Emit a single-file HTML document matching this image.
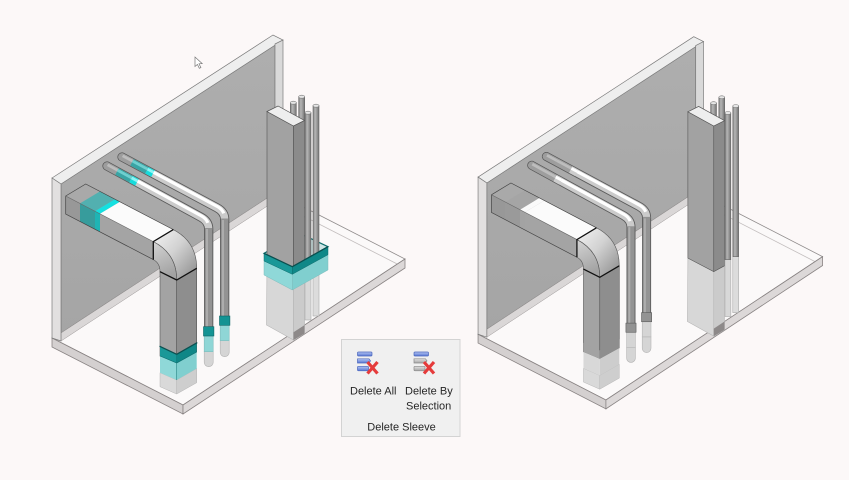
<!DOCTYPE html>
<html><head><meta charset="utf-8">
<style>
html,body{margin:0;padding:0;background:#fcf8f8;}
body{width:849px;height:480px;overflow:hidden;position:relative;font-family:"Liberation Sans",Arial,sans-serif;}
svg{position:absolute;left:0;top:0;}
.L{--st:#52b0b0;--sb:#14e0e0;--ss:#379c9c;--ssb:#1fb4b4;--dkL:#1a9898;--dkR:#0f8787;--ltL:#8fd8d8;--ltR:#80cfcf;--pt:#39a4a4;--ph:#6fcfcf;--pc:#16dcdc;--pch:#8ff4f4;--pvd:#139393;--pvl:#8fd6d6;--pvs:#0c6464;--pls:#7fbcbc;--sv:1;}
.R{--st:#a5a5a5;--sb:#fafafa;--ss:#9a9a9a;--ssb:#a3a3a3;--dkL:#a3a3a3;--dkR:#8e8e8e;--ltL:#d8d8d8;--ltR:#cdcdcd;--pt:#9e9e9e;--ph:#bdbdbd;--pc:#cdcdcd;--pch:#ffffff;--pvd:#939393;--pvl:#d5d5d5;--pvs:#5a5a5a;--pls:#b5b5b5;--sv:0;}
</style></head>
<body>
<svg width="849" height="480" viewBox="0 0 849 480" xmlns="http://www.w3.org/2000/svg">
<defs>
<linearGradient id="wallg" x1="0" y1="0" x2="0" y2="1"><stop offset="0" stop-color="#aeaeae"/><stop offset="1" stop-color="#a5a5a5"/></linearGradient>
<linearGradient id="elbO" x1="0" y1="0" x2="1" y2="1"><stop offset="0" stop-color="#f4f4f4"/><stop offset="0.45" stop-color="#d2d2d2"/><stop offset="1" stop-color="#8a8a8a"/></linearGradient>
<linearGradient id="elbS" x1="0" y1="0" x2="0.3" y2="1"><stop offset="0" stop-color="#d4d4d4"/><stop offset="1" stop-color="#a2a2a2"/></linearGradient>
<linearGradient id="vp" x1="0" y1="0" x2="1" y2="0"><stop offset="0" stop-color="#7a7a7a"/><stop offset="0.35" stop-color="#b6b6b6"/><stop offset="0.7" stop-color="#959595"/><stop offset="1" stop-color="#717171"/></linearGradient>
<linearGradient id="blue" x1="0" y1="0" x2="0" y2="1"><stop offset="0" stop-color="#b5c6f2"/><stop offset="1" stop-color="#5877d4"/></linearGradient>
<linearGradient id="grey" x1="0" y1="0" x2="0" y2="1"><stop offset="0" stop-color="#e2e2e2"/><stop offset="1" stop-color="#a5a5a5"/></linearGradient>

<g id="scene">
  <!-- floor -->
  <polygon points="52,338 183,405 405,259 274,192" fill="#fbf9f9" stroke="#8e8a8a" stroke-width="0.8"/>
  <line x1="274" y1="201" x2="405" y2="268" stroke="#c2bdbd" stroke-width="0.8"/>
  <polygon points="52,338 183,405 183,414 52,347" fill="#d4d0d0" stroke="#888383" stroke-width="0.8"/>
  <polygon points="183,405 405,259 405,268 183,414" fill="#dcd8d8" stroke="#888383" stroke-width="0.8"/>

  <!-- wall -->
  <polygon points="61,184 275,44 275,193 61,333" fill="url(#wallg)" stroke="#6f6f6f" stroke-width="0.6"/>
  <polygon points="61,333 275,193 275,201 61,341" fill="#dad7d7" stroke="#9a9696" stroke-width="0.5"/>
  <polygon points="52,178 273,35 283,40 61,184" fill="#eeeeee" stroke="#7a7a7a" stroke-width="0.7"/>
  <polygon points="52,178 61,184 61,341 52,338" fill="#e2e0e0" stroke="#7a7a7a" stroke-width="0.7"/>
  <polygon points="275,44 283,40 283,196 275,201" fill="#d9d9d9" stroke="#7a7a7a" stroke-width="0.7"/>

  <!-- horizontal duct -->
  <polygon points="65.7,196 80,203.4 80,221.4 65.7,214" fill="#989898"/>
  <polygon points="65.7,196 80,203.4 100,191.4 85.7,184" fill="#a9a9a9"/>
  <polygon points="80,203.4 95,211.2 95,229.2 80,221.4" style="fill:var(--ss,#9a9a9a)"/>
  <polygon points="95,211.2 100,213.8 100,231.8 95,229.2" style="fill:var(--ssb,#a3a3a3)"/>
  <polygon points="80,203.4 95,211.2 115,199.2 100,191.4" style="fill:var(--st,#a5a5a5)"/>
  <polygon points="95,211.2 100,213.8 120,201.8 115,199.2" style="fill:var(--sb,#fafafa)"/>
  <polygon points="100,213.8 153.3,241.6 153.3,259.6 100,231.8" fill="#a4a4a4"/>
  <polygon points="100,213.8 153.3,241.6 173.3,229.6 120,201.8" fill="#fbfbfb"/>
  <polygon points="65.7,196 85.7,184 173.3,229.6 153.3,241.6 153.3,259.6 65.7,214" fill="none" stroke="#444" stroke-width="0.7"/>
  <line x1="65.7" y1="196" x2="153.3" y2="241.6" stroke="#666" stroke-width="0.6"/>

  <!-- elbow -->
  <path d="M153.3,241.6 L173.3,229.6 Q196.7,241.7 196.7,268.3 L176.7,280 Q176.7,253.7 153.3,241.6 Z" fill="url(#elbO)" stroke="#555" stroke-width="0.6"/>
  <path d="M153.3,241.6 Q176.7,253.7 176.7,280 L160,271.7 Q160,263 153.3,259.6 Z" fill="url(#elbS)" stroke="#555" stroke-width="0.6"/>

  <!-- vertical duct -->
  <polygon points="160,271.7 176.7,280 176.7,363 160,356" fill="#a3a3a3" stroke="#555" stroke-width="0.6"/>
  <polygon points="176.7,280 196.7,268.3 196.7,352 176.7,363" fill="#8e8e8e" stroke="#555" stroke-width="0.6"/>
  <polygon points="160,372.7 176.7,380 176.7,394 160,386.7" fill="#d9d9d9" stroke="#b5b5b5" stroke-width="0.5"/>
  <polygon points="176.7,380 196.7,368.5 196.7,382.7 176.7,394" fill="#cecece" stroke="#b5b5b5" stroke-width="0.5"/>
  <polygon points="160,356 176.7,363 176.7,380 160,372.7" style="fill:var(--ltL,#d8d8d8)"/>
  <polygon points="176.7,363 196.7,352 196.7,368.5 176.7,380" style="fill:var(--ltR,#cdcdcd)"/>
  <polygon points="160,346.7 176.7,354.5 176.7,363 160,356" style="fill:var(--dkL,#a3a3a3)"/>
  <polygon points="176.7,354.5 196.7,343 196.7,352 176.7,363" style="fill:var(--dkR,#8e8e8e)"/>
  <g style="opacity:var(--sv,0)">
    <polyline points="159.5,346.2 176.7,354.3 197.3,342.6" fill="none" stroke="#0b5050" stroke-width="1.3"/>
    <polyline points="160,356 176.7,363 196.7,352" fill="none" stroke="#0d6f6f" stroke-width="0.6"/>
    <line x1="176.7" y1="354.5" x2="176.7" y2="380" stroke="#0d6f6f" stroke-width="0.5"/>
  </g>

  <!-- joint lines -->
  <polyline points="153.3,259.6 153.3,241.6 173.3,229.6" fill="none" stroke="#111" stroke-width="1.3"/>
  <polyline points="160,271.7 176.7,280 196.7,268.3" fill="none" stroke="#111" stroke-width="1.3"/>

  <!-- pipe 2 (back) -->
  <path d="M122,157 L217,207.8 Q224.7,212 224.7,219.5 L224.7,325" fill="none" stroke="#5a5a5a" stroke-width="9.2" stroke-linecap="round"/>
  <path d="M122,157 L217,207.8 Q224.7,212 224.7,219.5" fill="none" stroke="#cbcbcb" stroke-width="7.4" stroke-linecap="round"/>
  <line x1="224.7" y1="218.5" x2="224.7" y2="325" stroke="#939393" stroke-width="7.4"/>
  <line x1="223" y1="220" x2="223" y2="325" stroke="#adadad" stroke-width="2"/>
  <line x1="122" y1="157" x2="132" y2="162.35" stroke="#9d9d9d" stroke-width="7.4" stroke-linecap="round"/>
  <line x1="132" y1="162.35" x2="147" y2="170.4" style="stroke:var(--pt,#9e9e9e)" stroke-width="7.4"/>
  <line x1="147" y1="170.4" x2="153" y2="173.6" style="stroke:var(--pc,#cdcdcd)" stroke-width="7.4"/>
  <g transform="translate(0.6,-1.2)">
    <line x1="122" y1="157" x2="132" y2="162.35" stroke="#bdbdbd" stroke-width="2.8"/>
    <line x1="132" y1="162.35" x2="147" y2="170.4" style="stroke:var(--ph,#bdbdbd)" stroke-width="2.8"/>
    <line x1="147" y1="170.4" x2="153" y2="173.6" style="stroke:var(--pch,#fff)" stroke-width="2.8"/>
    <path d="M153,173.6 L217,207.8 Q221.5,210.3 223.2,214.5" fill="none" stroke="#fff" stroke-width="3.2"/>
  </g>
  <path d="M220.2,340.7 h9 v11.5 a4.5,4.5 0 0 1 -9,0 z" fill="#d5d5d5" stroke="#b3b3b3" stroke-width="0.6"/>
  <rect x="220.2" y="325" width="9" height="15.7" style="fill:var(--pvl,#d5d5d5);stroke:var(--pls,#b5b5b5)" stroke-width="0.6"/>
  <rect x="219.5" y="316" width="10.4" height="9.3" style="fill:var(--pvd,#939393);stroke:var(--pvs,#5a5a5a)" stroke-width="0.6"/>

  <!-- pipe 1 (front) -->
  <path d="M107,166 L201,217.2 Q208.7,221.4 208.7,229 L208.7,336" fill="none" stroke="#5a5a5a" stroke-width="9.2" stroke-linecap="round"/>
  <path d="M107,166 L201,217.2 Q208.7,221.4 208.7,229" fill="none" stroke="#cbcbcb" stroke-width="7.4" stroke-linecap="round"/>
  <line x1="208.7" y1="228" x2="208.7" y2="336" stroke="#939393" stroke-width="7.4"/>
  <line x1="207" y1="229" x2="207" y2="336" stroke="#adadad" stroke-width="2"/>
  <line x1="107" y1="166" x2="117" y2="171.45" stroke="#9d9d9d" stroke-width="7.4" stroke-linecap="round"/>
  <line x1="117" y1="171.45" x2="131" y2="179.1" style="stroke:var(--pt,#9e9e9e)" stroke-width="7.4"/>
  <line x1="131" y1="179.1" x2="137" y2="182.35" style="stroke:var(--pc,#cdcdcd)" stroke-width="7.4"/>
  <g transform="translate(0.6,-1.2)">
    <line x1="107" y1="166" x2="117" y2="171.45" stroke="#bdbdbd" stroke-width="2.8"/>
    <line x1="117" y1="171.45" x2="131" y2="179.1" style="stroke:var(--ph,#bdbdbd)" stroke-width="2.8"/>
    <line x1="131" y1="179.1" x2="137" y2="182.35" style="stroke:var(--pch,#fff)" stroke-width="2.8"/>
    <path d="M137,182.35 L201,217.2 Q205.5,219.7 207.2,224" fill="none" stroke="#fff" stroke-width="3.2"/>
  </g>
  <path d="M204.2,351.7 h9 v10.5 a4.5,4.5 0 0 1 -9,0 z" fill="#d5d5d5" stroke="#b3b3b3" stroke-width="0.6"/>
  <rect x="204.2" y="336" width="9" height="15.7" style="fill:var(--pvl,#d5d5d5);stroke:var(--pls,#b5b5b5)" stroke-width="0.6"/>
  <rect x="203.5" y="326.7" width="10.4" height="9.3" style="fill:var(--pvd,#939393);stroke:var(--pvs,#5a5a5a)" stroke-width="0.6"/>

  <!-- column pipes behind -->
  <rect x="290.3" y="102.7" width="6" height="14" fill="url(#vp)" stroke="#666" stroke-width="0.6"/>
  <ellipse cx="293.3" cy="102.7" rx="3" ry="1.5" fill="#e6e6e6" stroke="#777" stroke-width="0.6"/>
  <rect x="298.7" y="96.7" width="6" height="24" fill="url(#vp)" stroke="#666" stroke-width="0.6"/>
  <ellipse cx="301.7" cy="96.7" rx="3" ry="1.5" fill="#e6e6e6" stroke="#777" stroke-width="0.6"/>

  <!-- column sleeve top -->
  <polygon points="264,253.3 292.3,266.7 328,246.7 299.7,233.3" fill="#cfe6e6" stroke="#0e6d6d" stroke-width="1.2" style="opacity:var(--sv,0)"/>

  <!-- column -->
  <polygon points="267,260.5 293.5,274.3 293.5,340 266.5,325" fill="#d7d7d7" stroke="#b5b5b5" stroke-width="0.6"/>
  <polygon points="293.5,274.3 304.5,268.3 304.5,333.5 293.5,340" fill="#cbcbcb" stroke="#b5b5b5" stroke-width="0.6"/>
  <polygon points="267,111.5 293.5,126 293.5,274.3 267,260.5" fill="#a2a2a2" stroke="#555" stroke-width="0.6"/>
  <polygon points="293.5,126 304.5,120.5 304.5,268.3 293.5,274.3" fill="#8b8b8b" stroke="#555" stroke-width="0.6"/>
  <polygon points="267,111.5 278,106 304.5,120.5 293.5,126" fill="#eeeeee" stroke="#555" stroke-width="0.7"/>
  <polygon points="293.5,332.3 304.5,325.1 304.5,333.5 293.5,340" fill="#8d8989"/>

  <!-- column pipes front -->
  <rect x="305" y="262" width="6" height="58" fill="#d8d8d8" stroke="#aaa" stroke-width="0.6"/>
  <rect x="305" y="112.7" width="6" height="149.3" fill="url(#vp)" stroke="#666" stroke-width="0.6"/>
  <ellipse cx="308" cy="112.7" rx="3" ry="1.5" fill="#e6e6e6" stroke="#777" stroke-width="0.6"/>
  <rect x="313" y="259" width="6" height="57" fill="#dcdcdc" stroke="#aaa" stroke-width="0.6"/>
  <rect x="313" y="105.7" width="6" height="153.3" fill="url(#vp)" stroke="#666" stroke-width="0.6"/>
  <ellipse cx="316" cy="105.7" rx="3" ry="1.5" fill="#e6e6e6" stroke="#777" stroke-width="0.6"/>

  <!-- column sleeve faces -->
  <g style="opacity:var(--sv,0)">
    <polygon points="264,261 292.3,274.3 292.3,290 264,275" fill="#8fd8d8" stroke="#7fbcbc" stroke-width="0.5"/>
    <polygon points="292.3,274.3 328,254.7 328,270 292.3,290" fill="#80cfcf" stroke="#7fbcbc" stroke-width="0.5"/>
    <polygon points="264,253.3 292.3,266.7 292.3,274.3 264,261" fill="#1a9898" stroke="#0d6f6f" stroke-width="0.5"/>
    <polygon points="292.3,266.7 328,246.7 328,254.7 292.3,274.3" fill="#0f8888" stroke="#0d6f6f" stroke-width="0.5"/>
    <polyline points="264,253.3 292.3,266.7 328,246.7" fill="none" stroke="#0a4f4f" stroke-width="1.3"/>
  </g>
</g>
</defs>

<use href="#scene" class="L"/>
<use href="#scene" class="R" transform="translate(427.3,2.3) scale(0.976,0.982)"/>

<!-- cursor -->
<path d="M195,57 L195,66.5 L197.4,64.4 L199.3,68.3 L200.9,67.6 L199,63.8 L202.2,63.6 Z" fill="#fff" stroke="#777" stroke-width="0.7"/>

<!-- ribbon panel -->
<rect x="341.5" y="339.5" width="118.5" height="97" fill="#f0f0f0" stroke="#d3d3d3"/>
<rect x="357.5" y="352" width="14.5" height="4" rx="1" fill="url(#blue)" stroke="#4b67bd" stroke-width="0.7"/>
<path d="M357.5,358.8 h11.5 l1.5,2.1 l-1.5,2.1 h-11.5 z" fill="url(#blue)" stroke="#4b67bd" stroke-width="0.7"/>
<rect x="357.5" y="366.3" width="11" height="4.5" rx="1" fill="url(#blue)" stroke="#4b67bd" stroke-width="0.7"/>
<line x1="367.5" y1="362" x2="377.5" y2="373.5" stroke="#e53b3b" stroke-width="3.2"/>
<line x1="377.5" y1="362" x2="367.5" y2="373.5" stroke="#e53b3b" stroke-width="3.2"/>

<rect x="414" y="352" width="14.5" height="4" rx="1" fill="url(#blue)" stroke="#4b67bd" stroke-width="0.7"/>
<path d="M414,358.8 h11.5 l1.5,2.1 l-1.5,2.1 h-11.5 z" fill="url(#grey)" stroke="#8a8a8a" stroke-width="0.7"/>
<rect x="414" y="366.3" width="11" height="4.5" rx="1" fill="url(#grey)" stroke="#8a8a8a" stroke-width="0.7"/>
<line x1="424" y1="362" x2="434" y2="373.5" stroke="#e53b3b" stroke-width="3.2"/>
<line x1="434" y1="362" x2="424" y2="373.5" stroke="#e53b3b" stroke-width="3.2"/>

<g font-family="Liberation Sans, Arial, sans-serif" font-size="11" fill="#262626">
  <text x="350" y="394.7">Delete All</text>
  <text x="405" y="394.7">Delete By</text>
  <text x="406" y="409.7">Selection</text>
  <text x="367.3" y="430.7">Delete Sleeve</text>
</g>
</svg>
</body></html>
